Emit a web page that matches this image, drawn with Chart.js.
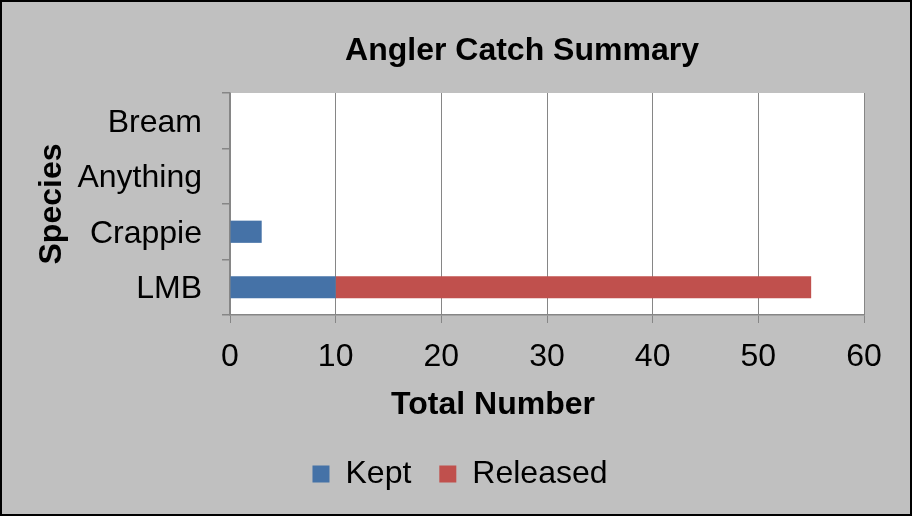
<!DOCTYPE html>
<html>
<head>
<meta charset="utf-8">
<script src="https://cdn.jsdelivr.net/npm/chart.js@4"></script>
<style>
html,body{margin:0;padding:0;background:#c0c0c0;}
#wrap{width:912px;height:516px;position:relative;}
</style>
</head>
<body>
<div id="wrap"><canvas id="c" width="912" height="516"></canvas></div>
<script>
const categories = ['LMB', 'Crappie', 'Anything', 'Bream'];
const keptValues = [10, 3, 0, 0];
const releasedValues = [45, 0, 0, 0];
const seriesNames = ['Kept', 'Released'];
const xTicks = [0, 10, 20, 30, 40, 50, 60];
const chartTitle = 'Angler Catch Summary';
const xTitle = 'Total Number';
const yTitle = 'Species';

const FONT = "'Liberation Sans', Arial, sans-serif";

const bgPlugin = {
  id: 'bg',
  beforeDraw(chart) {
    const ctx = chart.ctx, a = chart.chartArea;
    ctx.save();
    ctx.fillStyle = '#c0c0c0';
    ctx.fillRect(0, 0, chart.width, chart.height);
    ctx.fillStyle = '#ffffff';
    ctx.fillRect(a.left, a.top, a.right - a.left, a.bottom - a.top);
    ctx.restore();
  },
  afterDraw(chart) {
    const ctx = chart.ctx;
    ctx.save();
    ctx.fillStyle = '#000';
    ctx.font = 'bold 32px ' + FONT;
    ctx.textAlign = 'center';
    ctx.textBaseline = 'middle';
    ctx.fillText(chartTitle, 522, 51);
    ctx.fillText(xTitle, 493, 405);
    ctx.strokeStyle = '#000000';
    ctx.lineWidth = 2;
    ctx.strokeRect(1, 1, chart.width - 2, chart.height - 2);
    ctx.restore();
  }
};

new Chart(document.getElementById('c'), {
  type: 'bar',
  data: {
    labels: categories,
    datasets: [
      { label: seriesNames[0], data: keptValues, backgroundColor: '#4572a7', categoryPercentage: 1, barPercentage: 0.4 },
      { label: seriesNames[1], data: releasedValues, backgroundColor: '#c0504d', categoryPercentage: 1, barPercentage: 0.4 }
    ]
  },
  options: {
    indexAxis: 'y',
    responsive: false,
    animation: false,
    devicePixelRatio: 1,
    layout: { padding: { left: 56, right: 48, top: 93, bottom: 16 } },
    plugins: {
      title: { display: false },
      legend: {
        display: true,
        position: 'bottom',
        labels: {
          color: '#000',
          font: { family: FONT, size: 32 },
          boxWidth: 17,
          boxHeight: 17,
          padding: 28
        }
      },
      tooltip: { enabled: false }
    },
    scales: {
      x: {
        stacked: true,
        min: 0,
        max: 60,
        afterBuildTicks(scale) { scale.ticks = xTicks.map(v => ({ value: v })); },
        ticks: { color: '#000', font: { family: FONT, size: 32 }, padding: 15 },
        grid: { color: '#868686', lineWidth: 1, tickLength: 8, drawTicks: true },
        border: { color: '#868686', width: 1.5 },
        title: { display: false },
        afterFit(scale) { scale.height = 115; }
      },
      y: {
        stacked: true,
        reverse: true,
        ticks: { color: '#000', font: { family: FONT, size: 32 }, padding: 20, labelOffset: 2 },
        grid: { offset: true, drawOnChartArea: false, color: '#868686', tickLength: 8, lineWidth: 1.5 },
        border: { color: '#868686', width: 1.5 },
        title: {
          display: true,
          text: yTitle,
          color: '#000',
          font: { family: FONT, size: 32, weight: 'bold', lineHeight: 1.2 },
          padding: { top: -23, bottom: 0 }
        },
        afterFit(scale) { scale.width = 174; }
      }
    }
  },
  plugins: [bgPlugin]
});
</script>
</body>
</html>
